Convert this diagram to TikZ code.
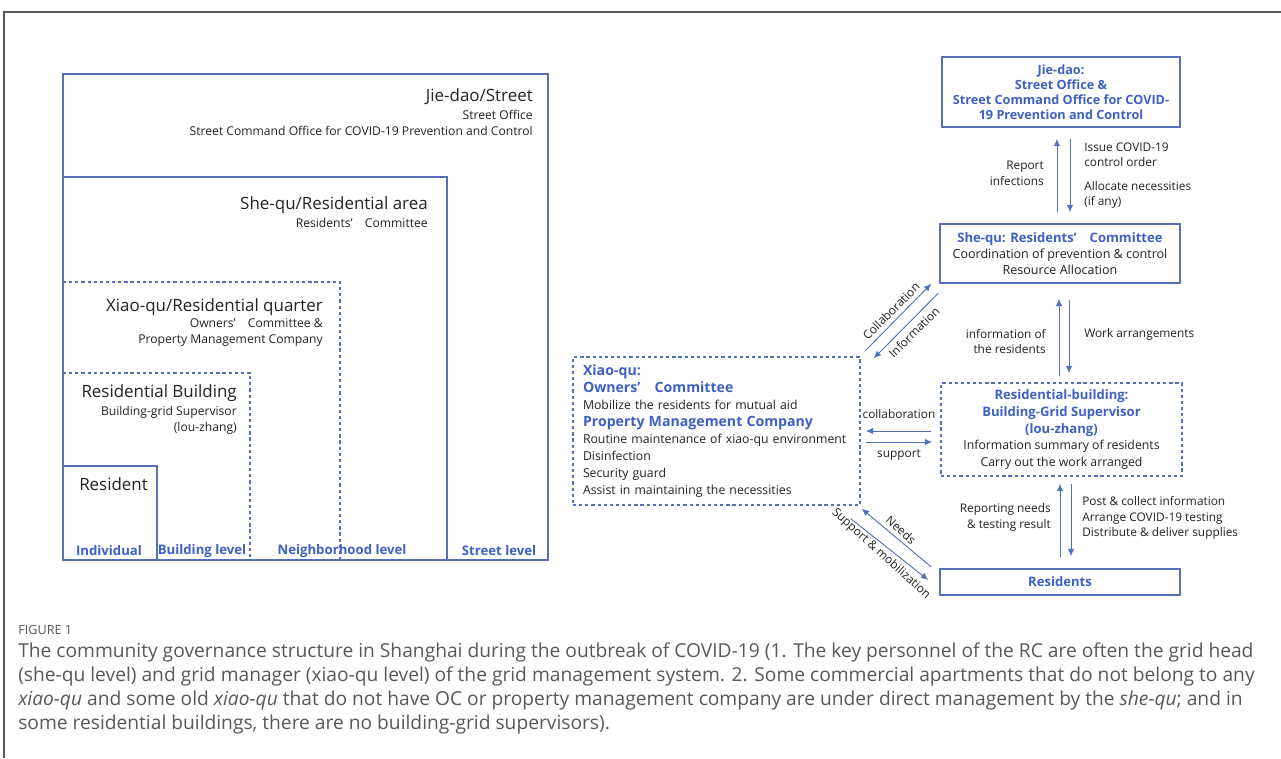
\documentclass[tikz,border=0pt]{standalone}
\usepackage{fontspec}
\setmainfont{Open Sans}
\usetikzlibrary{arrows.meta,positioning,calc}
\definecolor{lineblue}{RGB}{84,112,184}
\definecolor{textblue}{RGB}{62,96,196}
\definecolor{inkgray}{RGB}{34,34,34}
\definecolor{capgray}{RGB}{88,88,88}
\tikzset{
  level/.style={draw=lineblue,line width=1.1pt},
  leveldash/.style={level,dash pattern=on 2.4pt off 2.2pt},
  bigtxt/.style={text=inkgray,font=\fontsize{12.7}{14}\selectfont,inner sep=0pt},
  subtxt/.style={text=inkgray,font=\fontsize{9.1}{12}\selectfont,inner sep=0pt,align=right},
  levtxt/.style={text=textblue,font=\bfseries\fontsize{9.9}{12}\selectfont,inner sep=0pt},
  box/.style={draw=lineblue,line width=1.1pt,text=inkgray,align=center,inner sep=0pt,
    font=\fontsize{9.3}{12.4}\selectfont},
  dashbox/.style={box,dash pattern=on 2.4pt off 2.2pt},
  arr/.style={draw=lineblue,line width=0.7pt,-{Latex[length=5.5pt,width=4.8pt]}},
  note/.style={text=inkgray,font=\fontsize{8.9}{11.6}\selectfont,inner sep=0pt},
  captxt/.style={text=capgray,font=\fontsize{14.4}{18}\selectfont,inner sep=0pt,anchor=west},
}
\newcommand{\hd}[1]{\textcolor{textblue}{\bfseries\fontsize{9.8}{12}\selectfont #1}}
\newcommand{\hdbig}[1]{\textcolor{textblue}{\bfseries\fontsize{10.6}{12}\selectfont #1}}
\begin{document}
\begin{tikzpicture}[x=0.75pt,y=-0.75pt]
  \useasboundingbox (0,0) rectangle (1281,758);
  % frame of the figure
  \draw[capgray,line width=1pt] (4,758) -- (4,12) -- (1281,12);

  % left: nested levels
  \draw[level] (63,74) rectangle (548,560);
  \draw[level] (63,177) -- (447,177) -- (447,560);
  \draw[leveldash] (63,282) -- (340,282) -- (340,560);
  \draw[leveldash] (63,373) -- (250,373) -- (250,560);
  \draw[level] (63,466) -- (157,466) -- (157,560);

  \node[bigtxt,anchor=east] (street) at (533,97) {Jie-dao/Street};
  \node[subtxt,anchor=east] (streetsub) at (533,122.5) {Street Office\\Street Command Office for COVID-19 Prevention and Control};
  \node[bigtxt,anchor=east] (shequ) at (428,205) {She-qu/Residential area};
  \node[subtxt,anchor=east] (shequsub) at (428,223) {Residents'\hspace{1em}Committee};
  \node[bigtxt,anchor=east] (xiaoqu) at (323,307) {Xiao-qu/Residential quarter};
  \node[subtxt,anchor=east] (xiaoqusub) at (323,332.5) {Owners'\hspace{1em}Committee \&\\Property Management Company};
  \node[bigtxt,anchor=east] (build) at (237,393) {Residential Building};
  \node[subtxt,anchor=east] (buildsub) at (237,420) {Building-grid Supervisor\\(lou-zhang)};
  \node[bigtxt,anchor=west] (resident) at (79,484) {Resident};

  \node[levtxt] (lvind) at (109,551) {Individual};
  \node[levtxt] (lvbuild) at (202,551) {Building level};
  \node[levtxt] (lvnb) at (342,551) {Neighborhood level};
  \node[levtxt] (lvstreet) at (499,551) {Street level};

  % right: who does what
  \node[box,minimum width=178.5pt,minimum height=52.5pt,font=\bfseries\fontsize{9.5}{11.25}\selectfont,text=textblue] (jd) at (1061,92)
    {Jie-dao:\\Street Office \&\\Street Command Office for COVID-\\19 Prevention and Control};
  \node[box,minimum width=180pt,minimum height=44.25pt,font=\fontsize{9.4}{12}\selectfont] (sq) at (1060,253.5)
    {\hd{She-qu: Residents'\hspace{1em}Committee}\\Coordination of prevention \& control\\Resource Allocation};
  \node[dashbox,minimum width=180.75pt,minimum height=69.75pt,font=\fontsize{9.2}{12.6}\selectfont] (lz) at (1061.5,429.5)
    {\hd{Residential-building:}\\\hd{Building-Grid Supervisor}\\\hd{(lou-zhang)}\\Information summary of residents\\Carry out the work arranged};
  \node[box,minimum width=180pt,minimum height=19.5pt] (res) at (1060,582) {\hd{Residents}};
  \node[dashbox,minimum width=215.25pt,minimum height=111pt,text width=200.25pt,align=left,font=\fontsize{9.2}{12.8}\selectfont] (xq) at (716.5,431)
    {\hdbig{Xiao-qu:}\\\hdbig{Owners'\hspace{1em}Committee}\\Mobilize the residents for mutual aid\\\hdbig{Property Management Company}\\Routine maintenance of xiao-qu environment\\Disinfection\\Security guard\\Assist in maintaining the necessities};

  % arrows
  \draw[arr] ($(sq.north)+(-3,-11)$) -- ($(jd.south)+(-4,11)$);
  \draw[arr] ($(jd.south)+(9,11)$) -- ($(sq.north)+(10,-11)$);
  \draw[arr] ($(lz.north)+(-2.5,-6)$) -- ($(sq.south)+(-1,15)$);
  \draw[arr] ($(sq.south)+(9,16)$) -- ($(lz.north)+(7.5,-9)$);
  \draw[arr] ($(res.north)+(0,-11)$) -- ($(lz.south)+(-1.5,7)$);
  \draw[arr] ($(lz.south)+(9.5,7)$) -- ($(res.north)+(11,-12)$);
  \draw[arr] ($(lz.west)+(-9,1.5)$) -- ($(xq.east)+(5,0)$);
  \draw[arr] ($(xq.east)+(5,11)$) -- ($(lz.west)+(-8,12.5)$);
  \draw[arr] ($(xq.north east)+(5,-6)$) -- ($(sq.south west)+(-8,0)$);
  \draw[arr] ($(sq.south west)+(-1,9.5)$) -- ($(xq.north east)+(13,2)$);
  \draw[arr] ($(res.west)+(-8,-15)$) -- ($(xq.south east)+(1,3)$);
  \draw[arr] ($(xq.south east)+(-10,13)$) -- ($(res.west)+(-11,-2)$);

  % arrow labels
  \node[note,align=right,anchor=east] (lbreport) at (1044,173.5) {Report\\infections};
  \node[note,align=left,anchor=west] (lbissue) at (1084,155) {Issue COVID-19\\control order};
  \node[note,align=left,anchor=west] (lballoc) at (1084,195) {Allocate necessities\\(if any)};
  \node[note,align=right,anchor=east] (lbinfo) at (1046,341.5) {information of\\the residents};
  \node[note,anchor=west] (lbwork) at (1084,334) {Work arrangements};
  \node[note,align=right,anchor=east] (lbneeds) at (1051,517.5) {Reporting needs\\\& testing result};
  \node[note,align=left,anchor=west] (lbpost) at (1082,518) {Post \& collect information\\Arrange COVID-19 testing\\Distribute \& deliver supplies};
  \node[note] (lbcollab) at (899,414) {collaboration};
  \node[note] (lbsupport) at (899,455) {support};
  \node[note,rotate=45] (lbcollab2) at (891,311) {Collaboration};
  \node[note,rotate=45] (lbinfo2) at (914,332) {Information};
  \node[note,rotate=-42] (lbneeds2) at (901,530) {Needs};
  \node[note,rotate=-42] (lbsupmob) at (881,554) {Support \& mobilization};

  % caption
  \node[captxt,font=\fontsize{9.5}{11}\selectfont] (figno) at (18,630) {FIGURE 1};
  \node[captxt] (cap1) at (18,652) {The community governance structure in Shanghai during the outbreak of COVID-19 (1. The key personnel of the RC are often the grid head};
  \node[captxt] (cap2) at (18,676) {(she-qu level) and grid manager (xiao-qu level) of the grid management system. 2. Some commercial apartments that do not belong to any};
  \node[captxt] (cap3) at (18,700) {\textit{xiao-qu} and some old \textit{xiao-qu} that do not have OC or property management company are under direct management by the \textit{she-qu}; and in};
  \node[captxt] (cap4) at (18,724) {some residential buildings, there are no building-grid supervisors).};
\end{tikzpicture}
\end{document}
